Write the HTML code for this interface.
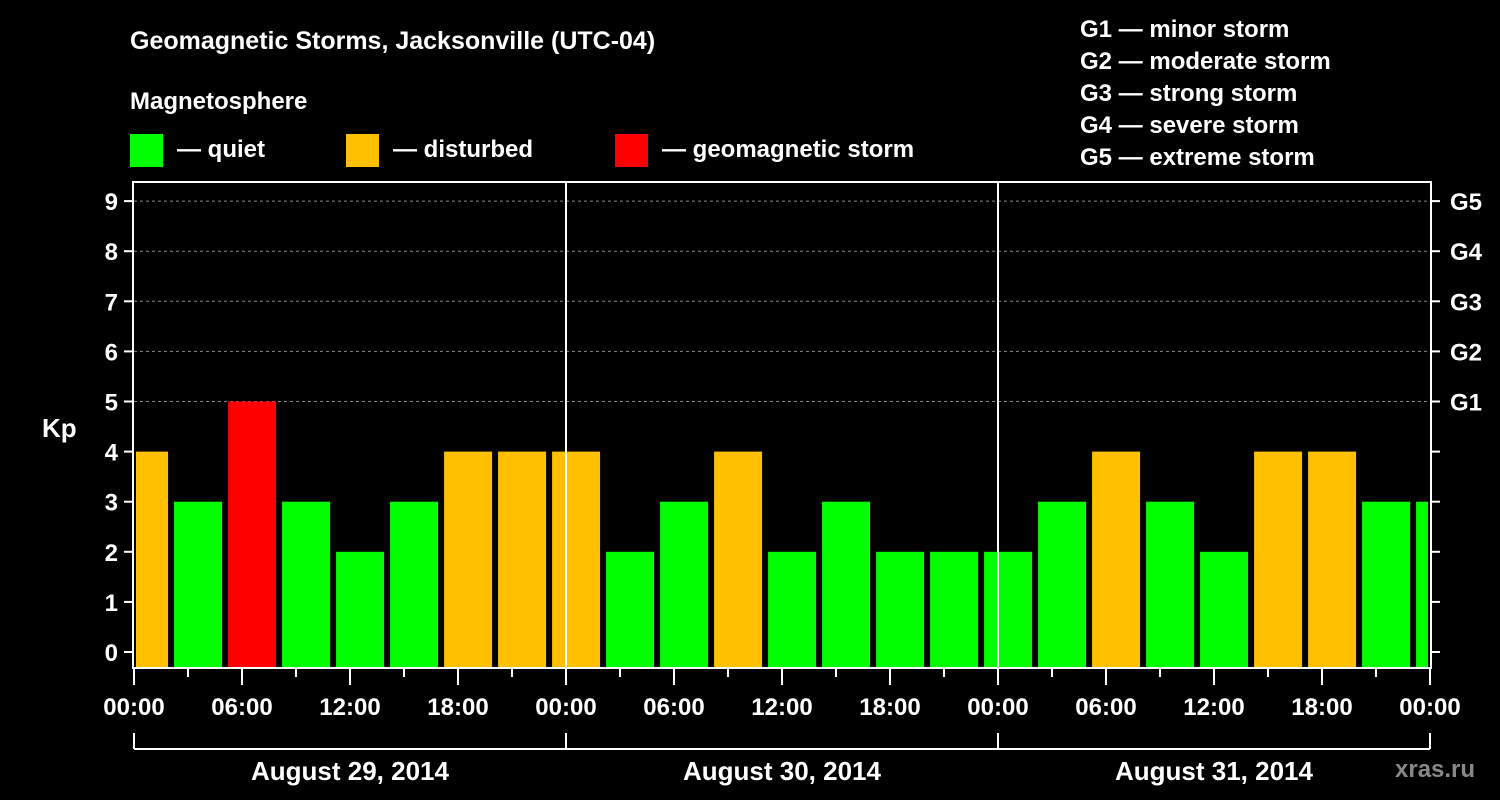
<!DOCTYPE html>
<html><head><meta charset="utf-8"><style>
body{margin:0;background:#000;}
svg{display:block;font-family:"Liberation Sans",sans-serif;font-weight:bold;}
</style></head><body>
<svg id="c" width="1500" height="800" viewBox="0 0 1500 800">
<rect width="1500" height="800" fill="#000"/>
<text x="130" y="49" fill="#fff" font-size="25">Geomagnetic Storms, Jacksonville (UTC-04)</text>
<text x="130" y="109" fill="#fff" font-size="24">Magnetosphere</text>
<g><rect x="130" y="134" width="33" height="33" fill="#00ff00"/><text x="177" y="157" fill="#fff" font-size="24">— quiet</text></g>
<g><rect x="346" y="134" width="33" height="33" fill="#ffc000"/><text x="393" y="157" fill="#fff" font-size="24">— disturbed</text></g>
<g><rect x="615" y="134" width="33" height="33" fill="#ff0000"/><text x="662" y="157" fill="#fff" font-size="24">— geomagnetic storm</text></g>
<g fill="#fff" font-size="24">
<text x="1080" y="37">G1 — minor storm</text>
<text x="1080" y="69">G2 — moderate storm</text>
<text x="1080" y="101">G3 — strong storm</text>
<text x="1080" y="133">G4 — severe storm</text>
<text x="1080" y="165">G5 — extreme storm</text>
</g>
<text x="42" y="437" fill="#fff" font-size="26">Kp</text>
<text x="1395" y="777" fill="#888" font-size="24">xras.ru</text>
<g id="grid"></g><g id="bars"></g><g id="axes"></g>
</svg>
<script>
const kpValues=[4,3,5,3,2,3,4,4,4,2,3,4,2,3,2,2,2,3,4,3,2,4,4,3,3];
const dayLabels=["August 29, 2014","August 30, 2014","August 31, 2014"];
const hourLabels=["00:00","06:00","12:00","18:00"];
const kpTicks=[0,1,2,3,4,5,6,7,8,9];
const gLabels=["G1","G2","G3","G4","G5"];
const NS="http://www.w3.org/2000/svg";
const X0=134,X1=1430,YT=182,YB=668;
const hourPx=(X1-X0)/72;
const x=h=>X0+h*hourPx;
const y=k=>652-k*50.1;
function mk(tag,attrs,parent,txt){const e=document.createElementNS(NS,tag);for(const k in attrs)e.setAttribute(k,attrs[k]);if(txt!==undefined)e.textContent=txt;document.getElementById(parent).appendChild(e);return e;}
// grid
for(let k=5;k<=9;k++){
const l=mk('line',{x1:X0,x2:X1,y1:y(k),y2:y(k),stroke:'#888','stroke-dasharray':'3,3','stroke-width':1},'grid');


}
// bars
kpValues.forEach((v,i)=>{
const c=x(i*3+0.56);
let l=Math.max(c-24,X0+2),r=Math.min(c+24,X1-2);
const col=v>=5?'#ff0000':(v>=4?'#ffc000':'#00ff00');
const b=mk('rect',{x:l,y:y(v),width:r-l,height:YB-y(v),fill:col},'bars');


});
// day separators
for(let d=1;d<3;d++){const l=mk('line',{x1:x(d*24),x2:x(d*24),y1:YT,y2:YB,stroke:'#fff','stroke-width':2},'axes');

}
const fr=mk('rect',{x:X0-1,y:YT,width:X1-X0+2,height:YB-YT,fill:'none',stroke:'#fff','stroke-width':2},'axes');


kpTicks.forEach(k=>{
mk('line',{x1:X0-10,x2:X0,y1:y(k),y2:y(k),stroke:'#fff','stroke-width':2},'axes');
mk('line',{x1:X1,x2:X1+10,y1:y(k),y2:y(k),stroke:'#fff','stroke-width':2},'axes');
const t=mk('text',{x:X0-16,y:y(k)+9,fill:'#fff','font-size':24,'text-anchor':'end'},'axes',String(k));


});
gLabels.forEach((g,i)=>{
const t=mk('text',{x:1450,y:y(5+i)+9,fill:'#fff','font-size':24},'axes',g);


});
for(let h=0;h<=72;h+=3){
const major=h%6===0;
mk('line',{x1:x(h),x2:x(h),y1:YB,y2:YB+(major?17:9),stroke:'#fff','stroke-width':2},'axes');
if(major){const t=mk('text',{x:x(h),y:715,fill:'#fff','font-size':24,'text-anchor':'middle'},'axes',hourLabels[(h/6)%4]);

}
}
mk('line',{x1:X0,x2:X1,y1:749,y2:749,stroke:'#fff','stroke-width':2},'axes');
for(let d=0;d<=3;d++)mk('line',{x1:x(d*24),x2:x(d*24),y1:733,y2:749,stroke:'#fff','stroke-width':2},'axes');
dayLabels.forEach((s,d)=>{
const t=mk('text',{x:x(d*24+12),y:780,fill:'#fff','font-size':26,'text-anchor':'middle'},'axes',s);


});
</script>
</body></html>
